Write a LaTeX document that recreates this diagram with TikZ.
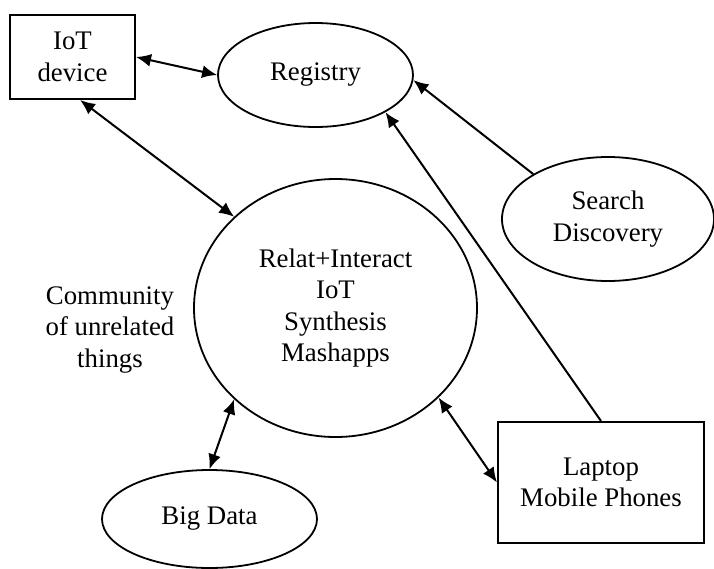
\documentclass[tikz,border=0pt]{standalone}
\usepackage{fontspec}
\setmainfont{Liberation Serif}
\usepackage{tikz}
\usetikzlibrary{shapes.geometric,arrows.meta}

\begin{document}
\begin{tikzpicture}[x=0.5pt, y=-0.5pt,
  every node/.style={font=\fontsize{13.4}{15.8}\selectfont, align=center, inner sep=0pt},
  boxnode/.style={draw, line width=1pt, rectangle},
  ovalnode/.style={draw, line width=0.9pt, ellipse},
  link/.style={line width=1pt, -{Latex[length=7.5pt, width=6.5pt]}},
  duplex/.style={line width=1pt, {Latex[length=7.5pt, width=6.5pt]}-{Latex[length=7.5pt, width=6.5pt]}}]
\useasboundingbox (0,0) rectangle (714,569);
\node[boxnode, minimum width=62.5pt, minimum height=42pt] (iot) at (72.5,57) {IoT\\device};
\node[ovalnode, minimum width=97.5pt, minimum height=52pt] (registry) at (315.5,75) {Registry};
\node[ovalnode, minimum width=106pt, minimum height=62pt] (search) at (608,219) {Search\\Discovery};
\node[ovalnode, minimum width=141.5pt, minimum height=129pt] (core) at (335.5,308) {Relat+Interact\\IoT\\Synthesis\\Mashapps};
\node (community) at (110,330) {Community\\of unrelated\\things};
\node[ovalnode, minimum width=107.5pt, minimum height=49pt] (bigdata) at (209.5,519) {Big Data};
\node[boxnode, minimum width=103pt, minimum height=60.5pt] (laptop) at (601,482.5) {Laptop\\Mobile Phones};
\draw[duplex] (iot.east) -- (registry.west);
\draw[duplex] (iot.-80) -- (core.138);
\draw[link] (search.149) -- (registry.-3);
\draw[link] (laptop.north) -- (registry.-28);
\draw[duplex] (core.222) -- (bigdata.north);
\draw[duplex] (core.-41) -- (laptop.west);
\end{tikzpicture}
\end{document}
